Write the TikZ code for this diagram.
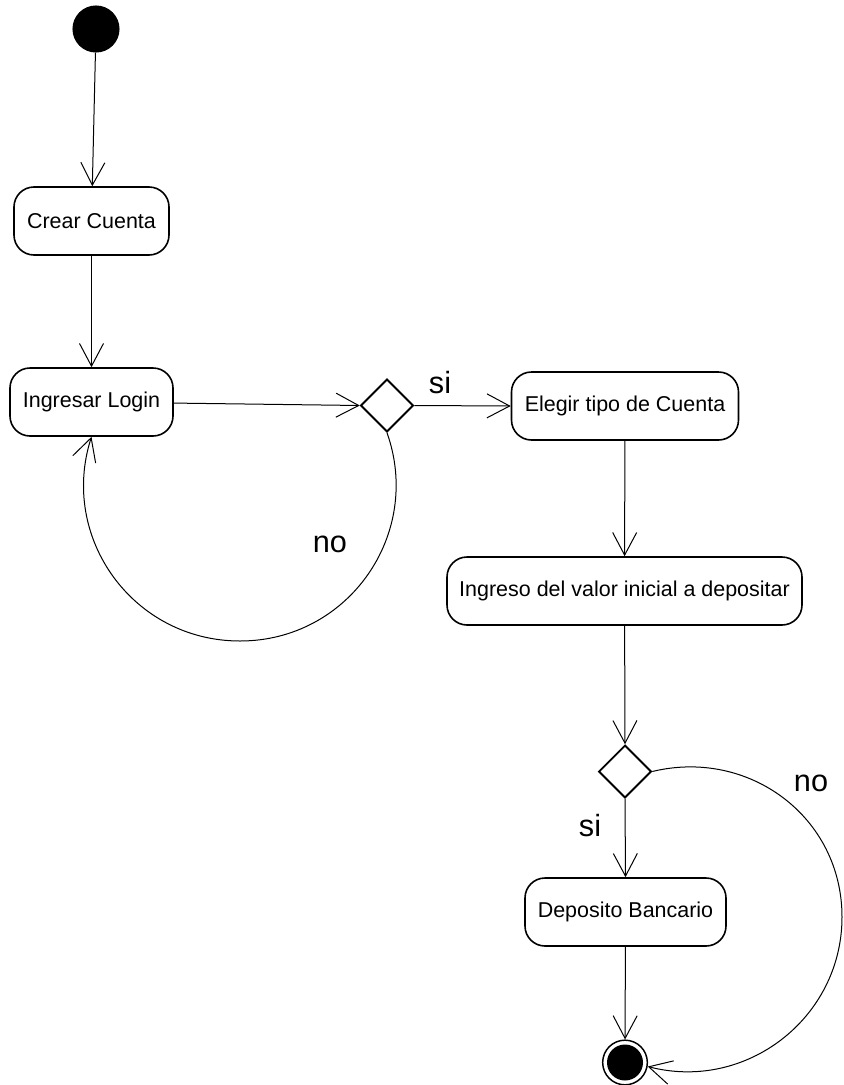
\documentclass[tikz,border=0pt]{standalone}
\usepackage{fontspec}
\setmainfont{Liberation Sans}
\usetikzlibrary{arrows.meta,shapes.geometric}

\tikzset{
  activity/.style={draw, line width=1.2pt, rounded corners=15pt, minimum height=51pt,
    inner sep=0pt, font=\fontsize{16.1}{19}\selectfont},
  decision/.style={draw, diamond, line width=1.4pt, minimum size=39.5pt, inner sep=0pt},
  flow/.style={line width=0.75pt, -{Straight Barb[length=17pt,width=18pt,line width=0.75pt]}},
  guard/.style={font=\fontsize{23}{27}\selectfont, inner sep=0pt},
}

\begin{document}
\begin{tikzpicture}[x=0.75pt,y=-0.75pt]
  \useasboundingbox (0,0) rectangle (843,1085);

  % initial and final states
  \node[circle, fill=black, draw, line width=0.8pt, minimum size=34.5pt, inner sep=0pt] (start) at (96,29) {};
  \node[circle, draw, line width=1.1pt, minimum size=33.5pt, inner sep=0pt,
        path picture={\fill (path picture bounding box.center) circle[radius=13.5pt];}] (final) at (625,1062.5) {};

  % activities
  \node[activity, minimum width=116.25pt] (crear)    at (91.5,221)   {Crear Cuenta};
  \node[activity, minimum width=122.25pt] (login)    at (91.5,402)   {Ingresar Login};
  \node[activity, minimum width=170.25pt] (elegir)   at (625,406)    {Elegir tipo de Cuenta};
  \node[activity, minimum width=266.25pt] (ingreso)  at (624.5,591)  {Ingreso del valor inicial a depositar};
  \node[activity, minimum width=150.75pt] (deposito) at (625.5,912)  {Deposito Bancario};

  % decisions
  \node[decision] (d1) at (387,405.5) {};
  \node[decision] (d2) at (625,771.5) {};

  % guard labels
  \node[guard] (si1) at (440,383) {si};
  \node[guard] (no1) at (330,544) {no};
  \node[guard] (si2) at (590,826) {si};
  \node[guard] (no2) at (811,783) {no};

  % transitions
  \draw[flow] (start) -- (crear);
  \draw[flow] (crear) -- (login);
  \draw[flow] (login) -- (d1.west);
  \draw[flow] (d1.east) -- (elegir.west);
  \draw[flow] (d1.south) .. controls (423,534) and (348.5,641) .. (240,641)
                         .. controls (133,641) and (59,537.5) .. (login.south);
  \draw[flow] (elegir) -- (ingreso);
  \draw[flow] (ingreso) -- (d2.north);
  \draw[flow] (d2.south) -- (deposito.north);
  \draw[flow] (deposito) -- (final);
  \draw[flow] (d2.east) .. controls (749,748) and (842,817) .. (842,917)
                        .. controls (842,1018) and (746,1092) .. (final.-10);
\end{tikzpicture}
\end{document}
